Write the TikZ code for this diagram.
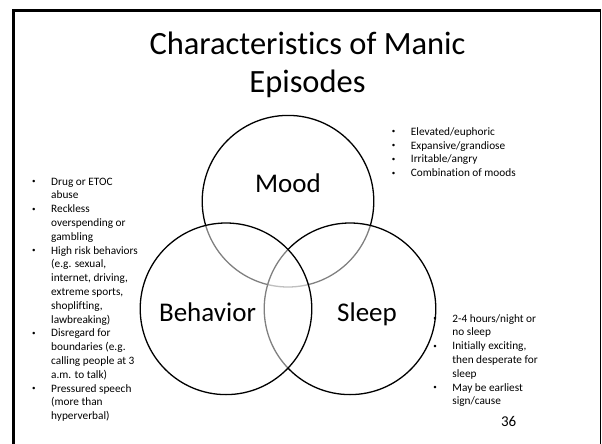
\documentclass[tikz,border=0pt]{standalone}
\usepackage{fontspec}
\setmainfont{Carlito}[Ligatures=NoCommon]
\newcommand\bul{\makebox[20pt][l]{\hspace{1pt}\raisebox{1.4pt}{\fontsize{7}{7}\selectfont\textbullet}}}
\begin{document}
\begin{tikzpicture}[x=1pt,y=-1pt,
  venn/.style={circle, draw=black, line width=1.3pt, fill=white, fill opacity=0.5, minimum size=171.6pt, inner sep=0pt},
  titletext/.style={font=\fontsize{32.5}{37.5}\selectfont, anchor=base, inner sep=0pt},
  setlabel/.style={font=\fontsize{27}{32}\selectfont, anchor=base, inner sep=0pt},
  bullets/.style={font=\fontsize{11.3}{13.8}\selectfont, anchor=base west, inner sep=0pt},
  pagenum/.style={font=\fontsize{15}{18}\selectfont, anchor=base, inner sep=0pt}]
\useasboundingbox (0,0) rectangle (602,444);
% slide frame
\draw[line width=2.6pt] (13.5,446) -- (13.5,10.5) -- (600.5,10.5);
\draw[line width=1.2pt] (600.6,10.5) -- (600.6,446);
% title
\node[titletext] (title1) at (307.5,55) {Characteristics of Manic};
\node[titletext] (title2) at (307.5,92.5) {Episodes};
% circles (order gives the grey overlaps)
\node[venn] (mood) at (288,201.2) {};
\node[venn] (sleep) at (350,308.8) {};
\node[venn] (behavior) at (226,308.8) {};
% set labels
\node[setlabel] (moodlabel) at (288,192.5) {Mood};
\node[setlabel] (behaviorlabel) at (207.5,321.7) {Behavior};
\node[setlabel] (sleeplabel) at (367,321.7) {Sleep};
% lists
\node[bullets] (moodlist) at (390.7,135.2) {\begin{tabular}[t]{@{}l@{}l@{}}
\bul & Elevated/euphoric\\
\bul & Expansive/grandiose\\
\bul & Irritable/angry\\
\bul & Combination of moods
\end{tabular}};
\node[bullets] (behaviorlist) at (31,185) {\begin{tabular}[t]{@{}l@{}l@{}}
\bul & Drug or ETOC\\
 & abuse\\
\bul & Reckless\\
 & overspending or\\
 & gambling\\
\bul & High risk behaviors\\
 & (e.g. sexual,\\
 & internet, driving,\\
 & extreme sports,\\
 & shoplifting,\\
 & lawbreaking)\\
\bul & Disregard for\\
 & boundaries (e.g.\\
 & calling people at 3\\
 & a.m. to talk)\\
\bul & Pressured speech\\
 & (more than\\
 & hyperverbal)
\end{tabular}};
\node[bullets] (sleeplist) at (432.2,322) {\begin{tabular}[t]{@{}l@{}l@{}}
\bul & 2-4 hours/night or\\
 & no sleep\\
\bul & Initially exciting,\\
 & then desperate for\\
 & sleep\\
\bul & May be earliest\\
 & sign/cause
\end{tabular}};
\node[pagenum] (page) at (508.7,426.7) {36};
\end{tikzpicture}
\end{document}
